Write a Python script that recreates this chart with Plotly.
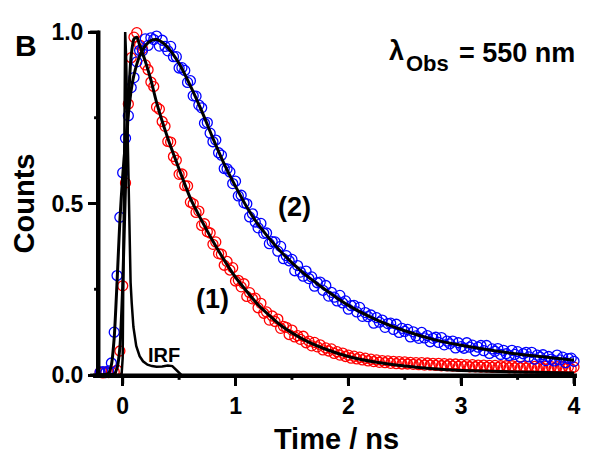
import numpy as np
import plotly.graph_objects as go

# time channels (ns) of the decay data
time_ns = np.round(np.arange(0, 169) * 0.025 - 0.2, 3)

# (1) red decay, normalised counts
counts_1 = [0.008, 0.006, 0.009, 0.007, 0.008, 0.009, 0.014, 0.07, 0.26, 0.56,
            0.79, 0.925, 0.985, 0.998, 0.962, 0.951, 0.904, 0.890, 0.854, 0.841,
            0.781, 0.775, 0.739, 0.725, 0.681, 0.679, 0.637, 0.626, 0.585, 0.586,
            0.552, 0.551, 0.504, 0.499, 0.474, 0.478, 0.436, 0.441, 0.418, 0.414,
            0.381, 0.388, 0.354, 0.352, 0.320, 0.331, 0.306, 0.313, 0.274, 0.276,
            0.257, 0.266, 0.229, 0.240, 0.222, 0.224, 0.196, 0.209, 0.180, 0.184,
            0.160, 0.172, 0.156, 0.163, 0.136, 0.142, 0.139, 0.118, 0.131, 0.111,
            0.115, 0.104, 0.113, 0.094, 0.099, 0.085, 0.095, 0.082, 0.088, 0.073,
            0.079, 0.070, 0.076, 0.063, 0.068, 0.058, 0.064, 0.054, 0.058, 0.049,
            0.055, 0.047, 0.052, 0.044, 0.049, 0.041, 0.046, 0.039, 0.044, 0.037,
            0.042, 0.036, 0.041, 0.034, 0.040, 0.033, 0.039, 0.032, 0.038, 0.032,
            0.037, 0.031, 0.036, 0.030, 0.036, 0.029, 0.035, 0.029, 0.034, 0.028,
            0.034, 0.027, 0.033, 0.027, 0.032, 0.026, 0.032, 0.025, 0.031, 0.025,
            0.030, 0.024, 0.030, 0.024, 0.029, 0.023, 0.029, 0.023, 0.028, 0.022,
            0.028, 0.022, 0.027, 0.022, 0.027, 0.021, 0.027, 0.021, 0.026, 0.021,
            0.026, 0.020, 0.026, 0.020, 0.025, 0.020, 0.025, 0.019, 0.025, 0.019,
            0.024, 0.019, 0.024, 0.018, 0.024, 0.018, 0.023, 0.018, 0.023]

# (2) blue decay, normalised counts
counts_2 = [0.008, 0.010, 0.007, 0.012, 0.035, 0.125, 0.29, 0.46, 0.59, 0.69,
            0.756, 0.838, 0.867, 0.913, 0.946, 0.945, 0.980, 0.961, 0.983, 0.978,
            0.988, 0.959, 0.976, 0.958, 0.945, 0.958, 0.928, 0.928, 0.895, 0.896,
            0.888, 0.853, 0.858, 0.814, 0.813, 0.787, 0.779, 0.734, 0.736, 0.705,
            0.680, 0.685, 0.648, 0.641, 0.602, 0.601, 0.592, 0.558, 0.565, 0.522,
            0.524, 0.502, 0.499, 0.461, 0.470, 0.446, 0.429, 0.442, 0.413, 0.414,
            0.383, 0.389, 0.388, 0.361, 0.375, 0.339, 0.348, 0.333, 0.337, 0.304,
            0.319, 0.300, 0.288, 0.303, 0.281, 0.286, 0.259, 0.269, 0.271, 0.247,
            0.261, 0.230, 0.241, 0.227, 0.216, 0.232, 0.210, 0.216, 0.192, 0.202,
            0.203, 0.184, 0.197, 0.171, 0.182, 0.170, 0.175, 0.151, 0.167, 0.154,
            0.160, 0.139, 0.150, 0.151, 0.133, 0.148, 0.124, 0.136, 0.127, 0.133,
            0.111, 0.126, 0.114, 0.107, 0.124, 0.108, 0.115, 0.097, 0.107, 0.110,
            0.095, 0.109, 0.088, 0.099, 0.091, 0.099, 0.079, 0.094, 0.083, 0.078,
            0.094, 0.081, 0.087, 0.070, 0.081, 0.086, 0.071, 0.086, 0.063, 0.076,
            0.069, 0.077, 0.060, 0.072, 0.062, 0.057, 0.072, 0.060, 0.068, 0.052,
            0.062, 0.066, 0.053, 0.066, 0.046, 0.058, 0.052, 0.059, 0.042, 0.054,
            0.046, 0.041, 0.058, 0.044, 0.052, 0.036, 0.048, 0.049, 0.040]

# fitted curves
fit1_t = [-0.2, -0.075, -0.05, -0.025, 0.0, 0.025, 0.05, 0.075, 0.1, 0.125, 0.15,
          0.2, 0.25, 0.3, 0.4, 0.5, 0.6, 0.7, 0.8, 0.9, 1.0, 1.2, 1.4, 1.6, 1.8,
          2.0, 2.25, 2.5, 2.75, 3.0, 3.5, 4.0]
fit1_y = [0.0, 0.003, 0.02, 0.08, 0.26, 0.55, 0.79, 0.93, 0.98, 0.985, 0.962,
          0.915, 0.86, 0.795, 0.69, 0.6, 0.515, 0.45, 0.39, 0.335, 0.285, 0.205,
          0.145, 0.104, 0.075, 0.054, 0.037, 0.026, 0.018, 0.013, 0.009, 0.006]
fit2_t = [-0.2, -0.125, -0.1, -0.075, -0.05, -0.025, 0.0, 0.025, 0.05, 0.075, 0.1,
          0.15, 0.2, 0.25, 0.3, 0.35, 0.4, 0.5, 0.6, 0.7, 0.8, 0.9, 1.0, 1.1,
          1.2, 1.4, 1.6, 1.8, 2.0, 2.25, 2.5, 2.75, 3.0, 3.5, 4.0]
fit2_y = [0.0, 0.005, 0.03, 0.11, 0.27, 0.45, 0.58, 0.68, 0.76, 0.83, 0.875,
          0.93, 0.96, 0.975, 0.978, 0.97, 0.955, 0.908, 0.843, 0.77, 0.69, 0.615,
          0.55, 0.49, 0.439, 0.36, 0.298, 0.248, 0.203, 0.161, 0.129, 0.104,
          0.087, 0.061, 0.043]

# instrument response function
irf_t = [-0.2, -0.01, 0.0, 0.008, 0.016, 0.022, 0.03, 0.04, 0.05, 0.06, 0.07,
         0.08, 0.095, 0.12, 0.15, 0.18, 0.22, 0.26, 0.3, 0.35, 0.4, 0.44, 0.47,
         0.5, 0.52]
irf_y = [0.0, 0.0, 0.05, 0.5, 0.92, 1.0, 0.93, 0.75, 0.55, 0.38, 0.27, 0.21,
         0.14, 0.085, 0.055, 0.04, 0.03, 0.026, 0.024, 0.025, 0.028, 0.026,
         0.016, 0.004, 0.0]

x_ticks = [0, 1, 2, 3, 4]
x_minor = [0.5, 1.5, 2.5, 3.5]
y_ticks = [0.0, 0.5, 1.0]
y_minor = [0.25, 0.75]
y_ticklabels = ["0.0", "0.5", "1.0"]
x_range = [-0.21, 4.0]
y_range = [0.0, 1.0]

FONT = "Liberation Sans, Arial, sans-serif"

# the page body has an 8 px default margin, so the figure is sized to the visible area
OFF = 8
W, H = 592 - OFF, 462 - OFF
L, R, T, B = 99 - OFF, 11, 23 - OFF, 85
pw, ph = W - L - R, H - T - B

fig = go.Figure()
fig.add_trace(go.Scatter(x=time_ns, y=counts_1, mode="markers", cliponaxis=False,
                         marker=dict(symbol="circle-open", size=10, color="#ff0000",
                                     line=dict(width=1.3, color="#ff0000"))))
fig.add_trace(go.Scatter(x=time_ns, y=counts_2, mode="markers", cliponaxis=False,
                         marker=dict(symbol="circle-open", size=10, color="#0000ff",
                                     line=dict(width=1.3, color="#0000ff"))))
fig.add_trace(go.Scatter(x=fit1_t, y=fit1_y, mode="lines", cliponaxis=False,
                         line=dict(color="black", width=3, shape="spline", smoothing=0.6)))
fig.add_trace(go.Scatter(x=fit2_t, y=fit2_y, mode="lines", cliponaxis=False,
                         line=dict(color="black", width=3, shape="spline", smoothing=0.6)))
fig.add_trace(go.Scatter(x=irf_t, y=irf_y, mode="lines", cliponaxis=False,
                         line=dict(color="black", width=2.5)))


def xdata_to_paper(v):
    return (v - x_range[0]) / (x_range[1] - x_range[0])


def ydata_to_paper(v):
    return (v - y_range[0]) / (y_range[1] - y_range[0])


def block(x0, x1, y0, y1):
    # filled black rectangle in paper units (axis lines and ticks)
    fig.add_shape(type="rect", xref="paper", yref="paper", x0=x0, x1=x1, y0=y0, y1=y1,
                  fillcolor="black", line=dict(width=0), layer="above")


hx, hy = 1.5 / pw, 1.5 / ph
block(-6 / pw, 1 + 2 * hx, -2 * hy, hy)  # bottom axis line
block(-hx, hx, -2 * hy, 1 + hy)          # left axis line
for v in x_ticks:
    xp = xdata_to_paper(v)
    block(xp - hx, xp + hx, -9 / ph, 0)
for v in x_minor:
    xp = xdata_to_paper(v)
    block(xp - hx, xp + hx, -5 / ph, 0)
for v in y_ticks:
    yp = ydata_to_paper(v)
    block(-9 / pw, 0, yp - hy, yp + hy)
for v in y_minor:
    yp = ydata_to_paper(v)
    block(-5 / pw, 0, yp - hy, yp + hy)


def px(xw):
    return (xw - OFF - L) / pw


def py(yw):
    return (H - B - (yw - OFF)) / ph


def ann(text, xw, yw, size, xanchor="center"):
    fig.add_annotation(text="<b>" + text + "</b>", x=px(xw), y=py(yw), xref="paper",
                       yref="paper", showarrow=False, xanchor=xanchor, yanchor="middle",
                       font=dict(family=FONT, size=size, color="black"))


ann("B", 25, 37, 30)
ann("λ", 391, 43, 27, "left")
ann("Obs", 408, 55, 22, "left")
ann("= 550 nm", 462, 45, 27, "left")
ann("(2)", 297, 204, 27)
ann("(1)", 214, 299, 27)
ann("IRF", 165, 356, 20)

fig.update_layout(
    width=W, height=H, margin=dict(l=L, r=R, t=T, b=B),
    paper_bgcolor="white", plot_bgcolor="white", showlegend=False,
    font=dict(family=FONT, color="black"),
    xaxis=dict(range=x_range, tickmode="array", tickvals=x_ticks,
               ticktext=["<b>%d</b>" % v for v in x_ticks],
               ticks="outside", ticklen=8, tickwidth=3, tickcolor="#000000",
               showline=True, linewidth=3, linecolor="#000000",
               showgrid=False, zeroline=False,
               tickfont=dict(family=FONT, size=23, color="black"),
               title=dict(text="<b>Time / ns</b>", standoff=12,
                          font=dict(family=FONT, size=29, color="black"))),
    yaxis=dict(range=y_range, tickmode="array", tickvals=y_ticks,
               ticktext=["<b>%s</b>" % s for s in y_ticklabels],
               ticks="outside", ticklen=8, tickwidth=3, tickcolor="#000000",
               showline=True, linewidth=3, linecolor="#000000",
               showgrid=False, zeroline=False,
               tickfont=dict(family=FONT, size=23, color="black"),
               title=dict(text="<b>Counts</b>", standoff=12,
                          font=dict(family=FONT, size=29, color="black"))),
)

fig.write_html("out.html")
